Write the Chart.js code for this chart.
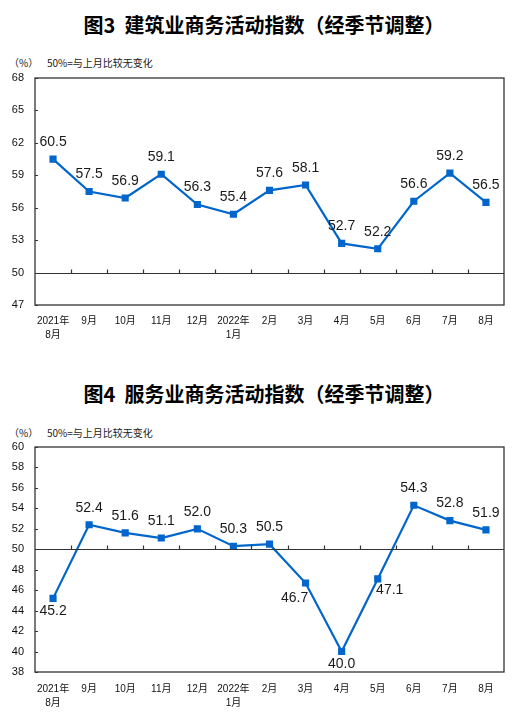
<!DOCTYPE html>
<html>
<head>
<meta charset="utf-8">
<script src="https://cdn.jsdelivr.net/npm/chart.js@4"></script>
<style>
  html, body { margin:0; padding:0; background:#fff; }
  body { width:517px; height:715px; position:relative; overflow:hidden; font-family:"Liberation Sans","Noto Sans CJK SC",sans-serif; color:#000; }
  .title { position:absolute; left:0; width:528px; text-align:center; font-family:"Noto Sans CJK SC",sans-serif; font-weight:bold; font-size:20px; line-height:24px; }
  .note { position:absolute; font-family:"Noto Sans CJK SC",sans-serif; font-size:10px; line-height:12px; color:#222; }
  .wrap { position:absolute; left:0; width:517px; }
</style>
</head>
<body>
<div class="title" style="top:13px;">图3&nbsp; 建筑业商务活动指数（经季节调整）</div>
<div class="note" style="top:57px; left:9px;">（%）</div>
<div class="note" style="top:57px; left:47px;">50%=与上月比较无变化</div>
<div class="wrap" style="top:0px; height:345px;"><canvas id="c1"></canvas></div>

<div class="title" style="top:382px;">图4&nbsp; 服务业商务活动指数（经季节调整）</div>
<div class="note" style="top:427px; left:9px;">（%）</div>
<div class="note" style="top:427px; left:47px;">50%=与上月比较无变化</div>
<div class="wrap" style="top:369px; height:346px;"><canvas id="c2"></canvas></div>

<script>
// ---- data ----
const months = [['2021年','8月'],'9月','10月','11月','12月',['2022年','1月'],'2月','3月','4月','5月','6月','7月','8月'];
const construction = [60.5,57.5,56.9,59.1,56.3,55.4,57.6,58.1,52.7,52.2,56.6,59.2,56.5];
const services = [45.2,52.4,51.6,51.1,52.0,50.3,50.5,46.7,40.0,47.1,54.3,52.8,51.9];
const ticks1 = [47,50,53,56,59,62,65,68];
const ticks2 = [38,40,42,44,46,48,50,52,54,56,58,60];
const baseline = 50;
const anchors1 = ['above','above','above','above','above','above','above','above','above','above','above','above','above'];
const anchors2 = ['below','above','above','above','above','above','above','belowLeft','below','belowRight','above','above','above'];

const BLUE = '#0066CC';
const FRAME = '#333333';

const framePlugin = {
  id: 'frame',
  afterDraw(chart) {
    const {ctx, chartArea: a, scales} = chart;
    const x = scales.x, y = scales.y;
    ctx.save();
    ctx.strokeStyle = FRAME;
    ctx.lineWidth = 1.3;
    ctx.strokeRect(a.left, a.top, a.right - a.left, a.bottom - a.top);
    // baseline at 50
    const yb = Math.round(y.getPixelForValue(baseline)) + 0.5;
    ctx.lineWidth = 1.2;
    ctx.beginPath();
    ctx.moveTo(a.left, yb); ctx.lineTo(a.right, yb);
    // category boundary ticks pointing up
    const n = chart.data.labels.length;
    for (let i = 1; i < n; i++) {
      const px = Math.round((x.getPixelForValue(i - 1) + x.getPixelForValue(i)) / 2) + 0.5;
      ctx.moveTo(px, yb); ctx.lineTo(px, yb - 4);
    }
    // y ticks inward
    y.ticks.forEach(t => {
      const py = Math.round(y.getPixelForValue(t.value)) + 0.5;
      ctx.moveTo(a.left, py); ctx.lineTo(a.left + 3, py);
    });
    ctx.stroke();
    ctx.restore();
  }
};

const labelPlugin = {
  id: 'vlabels',
  afterDatasetsDraw(chart, args, opts) {
    const {ctx} = chart;
    const meta = chart.getDatasetMeta(0);
    const vals = chart.data.datasets[0].data;
    const anchors = opts.anchors;
    ctx.save();
    ctx.font = '14px "Liberation Sans", Arial, sans-serif';
    ctx.fillStyle = '#1a1a1a';
    ctx.textAlign = 'center';
    ctx.textBaseline = 'middle';
    meta.data.forEach((pt, i) => {
      let dx = 0, dy = -17;
      const an = anchors[i];
      if (an === 'below') { dy = 13; }
      else if (an === 'belowLeft') { dx = -11; dy = 15; }
      else if (an === 'belowRight') { dx = 12; dy = 11; }
      ctx.fillText(vals[i].toFixed(1), pt.x + dx, pt.y + dy);
    });
    ctx.restore();
  }
};

function makeChart(id, values, tickVals, anchors, xAxisH, xPad) {
  return new Chart(document.getElementById(id), {
    type: 'line',
    data: {
      labels: months,
      datasets: [{
        data: values,
        borderColor: BLUE,
        backgroundColor: BLUE,
        borderWidth: 2.2,
        pointStyle: 'rect',
        pointRadius: 3.5,
        pointHoverRadius: 3.5,
        pointBackgroundColor: BLUE,
        pointBorderColor: BLUE,
        tension: 0,
        clip: false
      }]
    },
    options: {
      responsive: true,
      maintainAspectRatio: false,
      animation: false,
      devicePixelRatio: 1,
      layout: { padding: { top: 78, right: 13, left: 0, bottom: 0 } },
      plugins: {
        legend: { display: false },
        tooltip: { enabled: false },
        vlabels: { anchors: anchors }
      },
      scales: {
        x: {
          type: 'category',
          offset: true,
          grid: { display: false, drawTicks: false },
          border: { display: false },
          ticks: {
            padding: xPad,
            maxRotation: 0,
            autoSkip: false,
            color: '#111',
            font: { family: '"Liberation Sans","Noto Sans CJK SC",sans-serif', size: 10, lineHeight: 1.4 }
          },
          afterFit(s) { s.height = xAxisH; }
        },
        y: {
          min: tickVals[0],
          max: tickVals[tickVals.length - 1],
          grid: { display: false, drawTicks: false },
          border: { display: false },
          afterBuildTicks(s) { s.ticks = tickVals.map(v => ({ value: v })); },
          ticks: {
            padding: 11,
            color: '#111',
            font: { family: '"Liberation Sans",Arial,sans-serif', size: 11 }
          },
          afterFit(s) { s.width = 35; }
        }
      }
    },
    plugins: [framePlugin, labelPlugin]
  });
}

makeChart('c1', construction, ticks1, anchors1, 40, 9);
makeChart('c2', services, ticks2, anchors2, 43, 10);
</script>
</body>
</html>
